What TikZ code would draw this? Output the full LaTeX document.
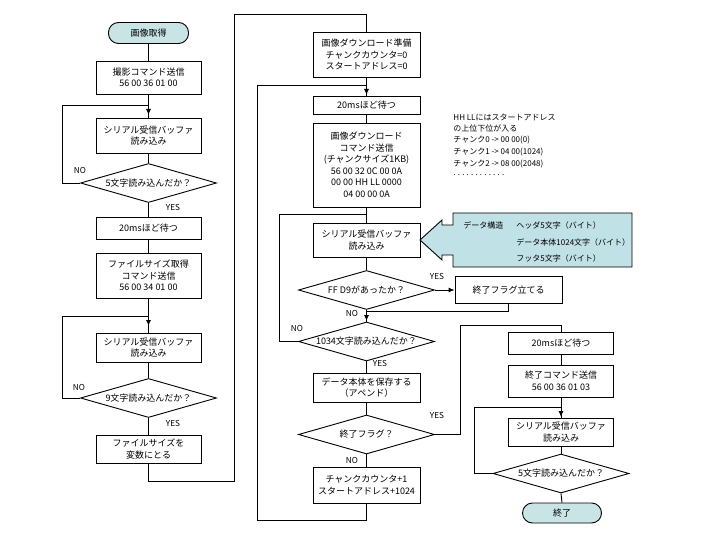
\documentclass[tikz,border=0pt]{standalone}
\usepackage{fontspec}
\setmainfont{Noto Sans CJK JP}
\usetikzlibrary{shapes.geometric,arrows.meta,decorations.markings}

\definecolor{termfill}{RGB}{200,228,229}
\definecolor{callfill}{RGB}{192,225,229}

\begin{document}
\begin{tikzpicture}[x=1pt,y=-1pt,line width=0.9pt,
  every node/.style={font=\fontsize{9}{11.5}\selectfont},
  proc/.style={draw, fill=white, align=center, inner sep=1pt, minimum width=105pt},
  term/.style={draw, fill=termfill, rounded corners=10pt, inner sep=1pt, minimum width=80pt, minimum height=21pt},
  decide/.style={draw, fill=white, diamond, aspect=3.5, inner sep=0pt, minimum width=136pt, minimum height=39pt},
  lbl/.style={font=\fontsize{8.2}{9}\selectfont, inner sep=0pt},
  note/.style={font=\fontsize{8}{9}\selectfont, inner sep=0pt, anchor=west},
  junc/.style={postaction={decorate}, decoration={markings,
      mark=at position 10pt with {\arrow{Latex[length=6pt,width=5pt]}}}},
  tip/.style={-{Latex[length=6pt,width=5pt]}}]
\useasboundingbox (0,0) rectangle (720,540);

% ---------- first column: capture and file size ----------
\node[term]  (start) at (148.5,33) {画像取得};
\node[proc, minimum height=33pt] (b1) at (148.5,77.5) {撮影コマンド送信\\56 00 36 01 00};
\coordinate (J1) at (148.5,105);
\node[proc, minimum height=35pt] (b2) at (148.5,135.5) {シリアル受信バッファ\\読み込み};
\node[decide] (d1) at (148.5,183) {5文字読み込んだか？};
\node[proc, minimum height=22pt] (b3) at (148.5,228) {20msほど待つ};
\node[proc, minimum height=45pt] (b4) at (148.5,275.5) {ファイルサイズ取得\\コマンド送信\\56 00 34 01 00};
\coordinate (J2) at (148.5,316);
\node[proc, minimum height=29pt] (b5) at (148.5,347.5) {シリアル受信バッファ\\読み込み};
\node[decide] (d2) at (148.5,398) {9文字読み込んだか？};
\node[proc, minimum height=28pt] (b6) at (148.5,449) {ファイルサイズを\\変数にとる};

\draw (start) -- (b1);
\draw (b1) -- (J1);
\draw[junc] (J1) -- (b2.north);
\draw (b2) -- (d1);
\draw (d1) -- (b3);
\draw (b3) -- (b4);
\draw (b4) -- (J2);
\draw[junc] (J2) -- (b5.north);
\draw (b5) -- (d2);
\draw (d2) -- (b6);
\draw (d1.west) -- ++(-18,0) |- (J1);
\draw (d2.west) -- ++(-18,0) |- (J2);

\node[lbl] at (80,170) {NO};
\node[lbl] at (173,207) {YES};
\node[lbl] at (79,387) {NO};
\node[lbl] at (173,423) {YES};

% ---------- second column: chunked download ----------
\node[proc, minimum width=107pt, minimum height=45pt] (m1) at (366.5,54.5) {画像ダウンロード準備\\チャンクカウンタ=0\\スタートアドレス=0};
\coordinate (J3) at (366.5,85);
\node[proc, minimum width=107pt, minimum height=18pt] (m2) at (366.5,105.5) {20msほど待つ};
\node[proc, minimum width=107pt, minimum height=84pt] (m3) at (366.5,165) {画像ダウンロード\\コマンド送信\\(チャンクサイズ1KB)\\56 00 32 0C 00 0A\\00 00 HH LL 0000\\04 00 00 0A};
\coordinate (J4) at (366.5,214);
\node[proc, minimum width=107pt, minimum height=34pt] (m4) at (366.5,240) {シリアル受信バッファ\\読み込み};
\node[decide] (md1) at (366.5,290) {FF D9があったか？};
\node[proc, minimum width=107pt, minimum height=27pt] (m5) at (508.5,290) {終了フラグ立てる};
\coordinate (J5) at (366.5,311);
\node[decide] (md2) at (366.5,341.5) {1034文字読み込んだか？};
\node[proc, minimum width=107pt, minimum height=29pt] (m6) at (366.5,387.5) {データ本体を保存する\\（アペンド）};
\node[decide] (md3) at (366.5,434.5) {終了フラグ？};
\node[proc, minimum width=107pt, minimum height=36pt] (m7) at (366.5,485) {チャンクカウンタ+1\\スタートアドレス+1024};

\coordinate (c1) at (148.5,481);
\coordinate (c2) at (234,14);
\coordinate (c3) at (257,520);
\draw (b6.south) -- (c1) -| (c2) -| (m1.north);
\draw (m1) -- (J3);
\draw[junc] (J3) -- (m2.north);
\draw (m2) -- (m3);
\draw (m3) -- (J4);
\draw[junc] (J4) -- (m4.north);
\draw (m4) -- (md1);
\draw[tip] (md1.east) -- (m5.west);
\draw (md1.south) -- (J5);
\draw (m5.south) |- (J5);
\draw[junc] (J5) -- (md2.north);
\draw (md2.west) -- ++(-19,0) |- (J4);
\draw (md2) -- (m6);
\draw (m6) -- (md3);
\draw (md3) -- (m7);
\draw (m7.south) |- (c3) |- (J3);

\node[lbl] at (437,276) {YES};
\node[lbl] at (352,313) {NO};
\node[lbl] at (297,328) {NO};
\node[lbl] at (380,363) {YES};
\node[lbl] at (437,415) {YES};
\node[lbl] at (352,460) {NO};

% ---------- notes on the download command ----------
\node[note] at (453,117) {HH LLにはスタートアドレス};
\node[note] at (453,128.5) {の上位下位が入る};
\node[note] at (453,140) {チャンク0 -> 00 00(0)};
\node[note] at (453,152) {チャンク1 -> 04 00(1024)};
\node[note] at (453,164) {チャンク2 -> 08 00(2048)};
\node[note] at (453,175) {\makebox[48pt][s]{. . . . . . . . . . . .}};

% ---------- data structure callout ----------
\draw[fill=callfill] (453,213) -- (632,213) -- (632,267) -- (453,267) -- (453,255)
  -- (442,255) -- (442,260) -- (420,240) -- (442,220) -- (442,225) -- (453,225) -- cycle;
\node[note] at (463,225) {データ構造};
\node[note] at (516,225) {ヘッダ5文字（バイト）};
\node[note] at (516,242) {データ本体1024文字（バイト）};
\node[note] at (516,258) {フッタ5文字（バイト）};

% ---------- third column: finish ----------
\node[proc, minimum height=22pt] (r1) at (561,343) {20msほど待つ};
\node[proc, minimum height=32pt] (r2) at (561,381) {終了コマンド送信\\56 00 36 01 03};
\coordinate (J6) at (561,407);
\node[proc, minimum height=28pt] (r3) at (561,432) {シリアル受信バッファ\\読み込み};
\node[decide] (rd1) at (561,473.5) {5文字読み込んだか？};
\node[term, minimum width=79pt, minimum height=20pt] (stop) at (562,513) {終了};

\coordinate (c4) at (460,325);
\draw (md3.east) -| (c4) -| (r1.north);
\draw (r1) -- (r2);
\draw (r2) -- (J6);
\draw[junc] (J6) -- (r3.north);
\draw (r3) -- (rd1);
\draw (rd1.south) -- (stop.north);
\draw (rd1.west) -- ++(-18,0) |- (J6);
\end{tikzpicture}
\end{document}
